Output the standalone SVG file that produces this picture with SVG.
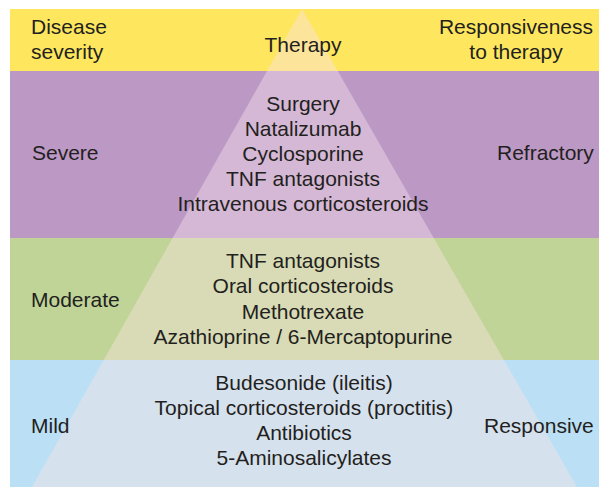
<svg xmlns="http://www.w3.org/2000/svg" width="599" height="487" viewBox="0 0 599 487">
<style>
text{font-family:"Liberation Sans",Arial,sans-serif;font-size:21px;fill:#231f20}
.c{text-anchor:middle}
</style>
<rect width="599" height="487" fill="#ffffff"/>
<g id="band-therapy">
<rect x="10" y="9" width="589" height="62" fill="#fee75e"/>
<polygon points="302,9 337.7,71 267,71" fill="#fde49b"/>
<text x="31" y="34">Disease</text>
<text x="31" y="59">severity</text>
<text class="c" x="303" y="52">Therapy</text>
<text class="c" x="516" y="34">Responsiveness</text>
<text class="c" x="516" y="59">to therapy</text>
</g>
<g id="band-severe">
<rect x="10" y="71" width="589" height="167" fill="#bc98c5"/>
<polygon points="267,71 337.7,71 433.7,238 172.6,238" fill="#d5b8d6"/>
<text x="32" y="160">Severe</text>
<text x="497" y="160">Refractory</text>
<text class="c" x="303" y="111">Surgery</text>
<text class="c" x="303" y="136">Natalizumab</text>
<text class="c" x="303" y="161">Cyclosporine</text>
<text class="c" x="303" y="186">TNF antagonists</text>
<text class="c" x="303" y="211">Intravenous corticosteroids</text>
</g>
<g id="band-moderate">
<rect x="10" y="238" width="589" height="122" fill="#c0d497"/>
<polygon points="172.6,238 433.7,238 503.9,360 103.7,360" fill="#d8dbb5"/>
<text x="31" y="307">Moderate</text>
<text class="c" x="303" y="268">TNF antagonists</text>
<text class="c" x="303" y="293">Oral corticosteroids</text>
<text class="c" x="303" y="319">Methotrexate</text>
<text class="c" x="303" y="344">Azathioprine / 6-Mercaptopurine</text>
</g>
<g id="band-mild">
<rect x="10" y="360" width="589" height="127" fill="#bbdff4"/>
<polygon points="103.7,360 503.9,360 577,487 32,487" fill="#d6e1ee"/>
<text x="31" y="433">Mild</text>
<text x="484" y="433">Responsive</text>
<text class="c" x="304" y="390">Budesonide (ileitis)</text>
<text class="c" x="304" y="415">Topical corticosteroids (proctitis)</text>
<text class="c" x="304" y="440">Antibiotics</text>
<text class="c" x="304" y="465">5-Aminosalicylates</text>
</g>
<g id="connectors"/>
</svg>
